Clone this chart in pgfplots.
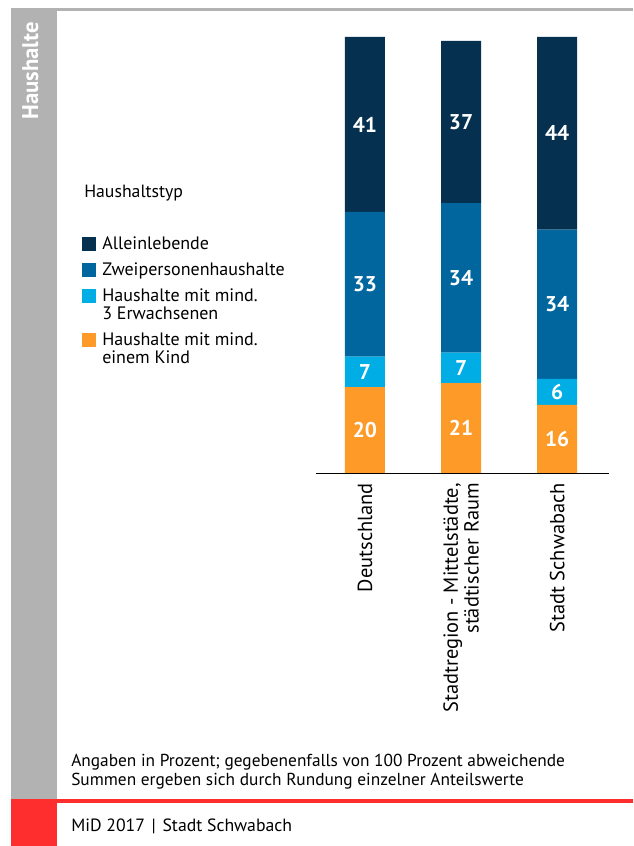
\documentclass[border=0pt]{standalone}
\usepackage{pgfplots}
\pgfplotsset{compat=1.18}
\usepackage{fontspec}
\setmainfont{PT Sans}
\definecolor{cNavy}{RGB}{5,48,79}
\definecolor{cBlue}{RGB}{1,102,157}
\definecolor{cCyan}{RGB}{0,174,229}
\definecolor{cOrange}{RGB}{254,154,40}
\definecolor{cGrey}{RGB}{178,178,178}
\definecolor{cRed}{RGB}{255,46,46}
\begin{document}
\begin{tikzpicture}[x=0.75pt,y=0.75pt]
\path[use as bounding box] (0,0) rectangle (633,846);
\fill[cGrey] (11,835) rectangle (633,837.5);
\fill[cGrey] (11,47) rectangle (57,836);
\fill[cRed] (11,0) rectangle (57,47);
\fill[cRed] (57,43) rectangle (633,47);
\node[rotate=90, anchor=base east, text=white, font=\bfseries\fontsize{17}{19}\selectfont, inner sep=0pt] at (38,824) {Haushalte};
\node[anchor=base west, inner sep=0pt, font=\fontsize{13.3}{15}\selectfont] at (84,648) {Haushaltstyp};
\node[anchor=base west, inner sep=0pt, align=left, font=\fontsize{13}{14.25}\selectfont] at (71,60) {Angaben in Prozent; gegebenenfalls von 100 Prozent abweichende\\Summen ergeben sich durch Rundung einzelner Anteilswerte};
\node[anchor=base west, inner sep=0pt, font=\fontsize{13.3}{15}\selectfont] at (71,14) {MiD 2017\hspace{5pt}|\hspace{5pt}Stadt Schwabach};
\begin{axis}[
  at={(237pt,279.75pt)}, anchor=south west,
  scale only axis, width=219.75pt, height=327pt,
  ybar stacked, bar width=30pt,
  enlargelimits=false,
  xmin=-0.51, xmax=2.54, ymin=0, ymax=100,
  axis y line=none, axis x line*=bottom,
  x axis line style={-, black, line width=0.6pt},
  xtick={0,1,2}, major tick length=0pt,
  xticklabels={Deutschland,{Stadtregion - Mittelstädte,\\städtischer Raum},Stadt Schwabach},
  xticklabel style={rotate=90, anchor=east, align=right, font=\fontsize{15.3}{15.5}\selectfont, inner sep=0pt},
  xticklabel shift=7.5pt,
  nodes near coords,
  point meta=explicit symbolic,
  every node near coord/.append style={anchor=center, text=white, font=\bfseries\fontsize{16}{16}\selectfont},
  legend style={at={(-0.7986,0.5443)}, anchor=north west, draw=none, fill=none, inner sep=0pt, row sep=6.5pt, column sep=4.5pt, cells={anchor=base west, align=left}, nodes={inner sep=0pt}, font=\fontsize{13.5}{13.5}\selectfont},
  legend image code/.code={\path (0,-3pt) (0,10pt); \fill[#1] (0,-1.5pt) rectangle (10.5pt,9pt);},
  reverse legend,
]
\addplot[fill=cOrange, draw=none, legend image code/.code={\path (0,-3pt) (0,23.5pt); \fill[cOrange] (0,12pt) rectangle (10.5pt,22.5pt);}] coordinates {(0,19.7)[20] (1,20.6)[21] (2,15.6)[16]};
\addplot[fill=cCyan, draw=none, legend image code/.code={\path (0,-3pt) (0,23.5pt); \fill[cCyan] (0,12pt) rectangle (10.5pt,22.5pt);}] coordinates {(0,7.0)[7] (1,7.0)[7] (2,6.0)[6]};
\addplot[fill=cBlue, draw=none] coordinates {(0,33.2)[33] (1,34.3)[34] (2,34.2)[34]};
\addplot[fill=cNavy, draw=none] coordinates {(0,40.1)[41] (1,37.2)[37] (2,44.2)[44]};
\addlegendentry{Haushalte mit mind.\\einem Kind}
\addlegendentry{Haushalte mit mind.\\3 Erwachsenen}
\addlegendentry{Zweipersonenhaushalte}
\addlegendentry{Alleinlebende}
\end{axis}
\end{tikzpicture}
\end{document}
